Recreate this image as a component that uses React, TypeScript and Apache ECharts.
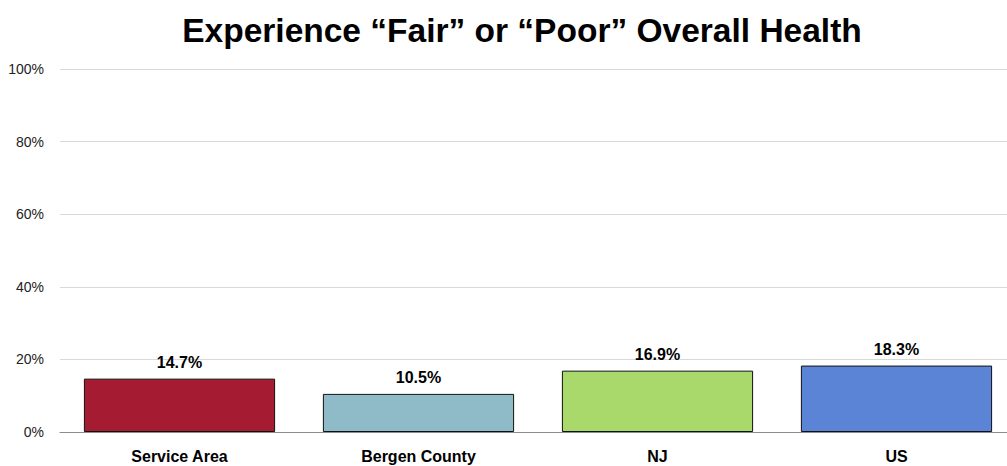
import React, { useEffect, useRef } from "react";
import * as echarts from "echarts";

const categories = ["Service Area", "Bergen County", "NJ", "US"];
const values = [14.7, 10.5, 16.9, 18.3];
const barColors = ["#A51B31", "#8FBAC8", "#A8D96A", "#5B84D6"];
const yTicks = [0, 20, 40, 60, 80, 100];

export default function App() {
  const ref = useRef<HTMLDivElement>(null);
  useEffect(() => {
    document.body.style.margin = "0";
    document.body.style.overflow = "hidden";
    const chart = echarts.init(ref.current!, null, { renderer: "svg" });
    chart.setOption({
      animation: false,
      title: {
        text: "Experience \u201cFair\u201d or \u201cPoor\u201d Overall Health",
        left: 517,
        textAlign: "center",
        top: 8,
        textStyle: {
          fontFamily: "Liberation Sans, Arial, sans-serif",
          fontWeight: "bold",
          fontSize: 33.5,
          color: "#000",
        },
      },
      grid: { left: 60, right: 0, top: 69, bottom: 34, containLabel: false },
      xAxis: {
        type: "category",
        data: categories,
        axisTick: { show: false },
        axisLine: { lineStyle: { color: "#8c8c8c", width: 1 } },
        axisLabel: {
          fontFamily: "Liberation Sans Narrow, Arial Narrow, sans-serif",
          fontWeight: "bold",
          fontSize: 16,
          color: "#000",
          margin: 16,
        },
      },
      yAxis: {
        type: "value",
        min: yTicks[0],
        max: yTicks[yTicks.length - 1],
        interval: 20,
        axisLine: { show: false },
        axisTick: { show: false },
        splitLine: { lineStyle: { color: "#d9d9d9", width: 1 } },
        axisLabel: {
          formatter: (v: number) => `${v}%`,
          fontFamily: "Liberation Sans Narrow, Arial Narrow, sans-serif",
          fontSize: 14,
          color: "#222",
          margin: 16,
        },
      },
      series: [
        {
          type: "bar",
          data: values.map((v, i) => ({
            value: v,
            itemStyle: { color: barColors[i] },
          })),
          barWidth: "80%",
          itemStyle: { borderColor: "#111", borderWidth: 1 },
          label: {
            show: true,
            position: "top",
            distance: 8,
            formatter: (p: any) => `${p.value.toFixed(1)}%`,
            fontFamily: "Liberation Sans Narrow, Arial Narrow, sans-serif",
            fontWeight: "bold",
            fontSize: 16,
            color: "#000",
          },
        },
      ],
    });
    return () => chart.dispose();
  }, []);
  return (
    <div style={{ width: 1007, height: 466, overflow: "hidden", position: "relative" }}>
      <div ref={ref} style={{ width: 1016, height: 466 }} />
    </div>
  );
}
